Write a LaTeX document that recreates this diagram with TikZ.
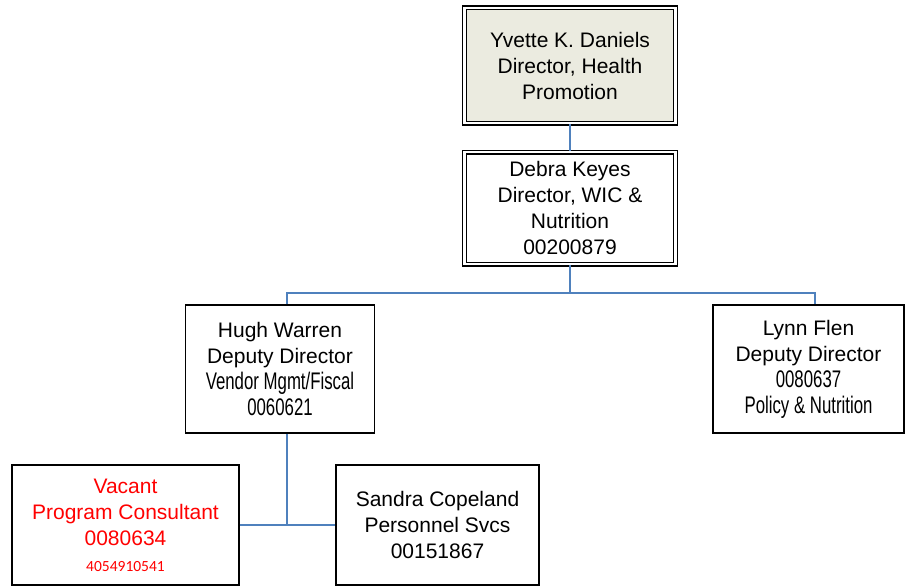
\documentclass[tikz,border=0pt]{standalone}
\usepackage{fontspec}
\setmainfont{Liberation Sans}
\newfontfamily\narrowfont[FakeStretch=0.7]{Liberation Sans}
\newfontfamily\phonefont{Carlito}
\usepackage{tikz}
\usetikzlibrary{calc}

\definecolor{linkblue}{RGB}{79,129,189}
\definecolor{topfill}{RGB}{235,235,224}
\definecolor{vacantred}{RGB}{255,0,0}

\newcommand\narrowline[1]{{\narrowfont\fontsize{24}{28}\selectfont #1}}

\begin{document}
\begin{tikzpicture}[x=1pt, y=-1pt,
  box/.style={draw=black, line width=1.5pt, align=center, inner sep=0pt,
    minimum height=128pt},
  dbox/.style={draw=black, double, line width=1.4pt, double distance=2.2pt,
    align=center, inner sep=0pt, minimum width=211pt},
  link/.style={draw=linkblue, line width=1.6pt}]

  \fontsize{21}{26}\selectfont
  \useasboundingbox (0,0) rectangle (905,586);

  % top two
  \node[dbox, fill=topfill, minimum height=115pt] (yvette) at (570,65.5)
    {Yvette K. Daniels\\Director, Health\\Promotion};
  \node[dbox, minimum height=112pt] (debra) at (570,208)
    {Debra Keyes\\Director, WIC \&\\Nutrition\\00200879};

  % deputies
  \node[box, minimum width=189pt] (hugh) at (280,369)
    {Hugh Warren\\Deputy Director\\\narrowline{Vendor Mgmt/Fiscal}\\\narrowline{0060621}};
  \node[box, minimum width=191pt] (lynn) at (808.5,369)
    {Lynn Flen\\Deputy Director\\\narrowline{0080637}\\\narrowline{Policy \& Nutrition}};

  % staff
  \node[box, minimum width=227pt, minimum height=120pt, text=vacantred] (vacant) at (125.5,525)
    {Vacant\\Program Consultant\\0080634\\{\phonefont\fontsize{15.5}{25.5}\selectfont 4054910541}};
  \node[box, minimum width=203pt, minimum height=120pt] (sandra) at (437.5,525)
    {Sandra Copeland\\Personnel Svcs\\00151867};

  \coordinate (bar) at (570,293);
  \coordinate (hughin) at ([xshift=7pt]hugh.north);
  \coordinate (lynnin) at ([xshift=6.5pt]lynn.north);
  \coordinate (hughout) at ([xshift=7pt]hugh.south);

  \draw[link] (yvette.south) -- (debra.north);
  \draw[link] (debra.south) -- (bar);
  \draw[link] (hughin) |- (bar) -| (lynnin);
  \draw[link] (hughout) -- (hughout |- vacant.east);
  \draw[link] (vacant.east) -- (sandra.west);

\end{tikzpicture}
\end{document}
